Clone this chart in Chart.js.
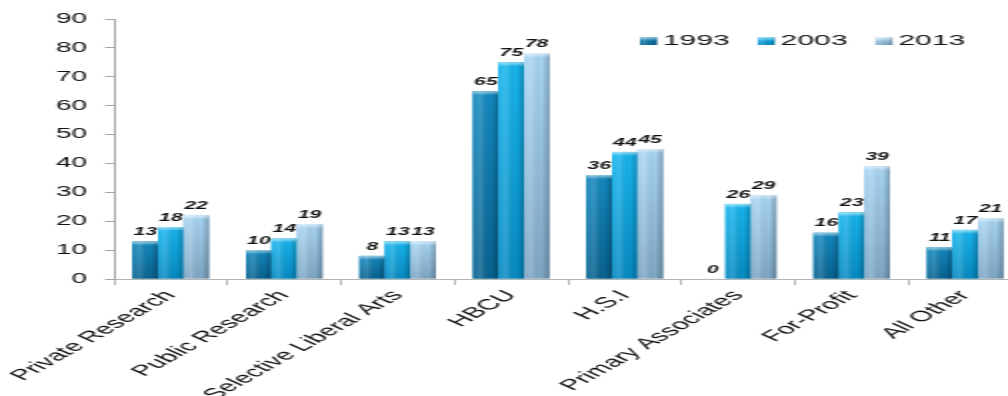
<!DOCTYPE html>
<html>
<head>
<meta charset="utf-8">
<script src="https://cdn.jsdelivr.net/npm/chart.js@4.4.0/dist/chart.umd.min.js"></script>
<style>
html, body { margin: 0; padding: 0; background: #fff; overflow: hidden; }
/* chart is laid out at half width and stretched 2x horizontally */
#wrap { position: absolute; left: 0; top: 0; width: 511px; height: 396px; transform: scaleX(2); transform-origin: 0 0; }
</style>
</head>
<body>
<div id="wrap"><canvas id="chart"></canvas></div>
<script>
const categories = ['Private Research', 'Public Research', 'Selective Liberal Arts', 'HBCU', 'H.S.I', 'Primary Associates', 'For-Profit', 'All Other'];
const years = ['1993', '2003', '2013'];
const values1993 = [13, 10, 8, 65, 36, 0, 16, 11];
const values2003 = [18, 14, 13, 75, 44, 26, 23, 17];
const values2013 = [22, 19, 13, 78, 45, 29, 39, 21];
const yMin = 0, yMax = 90, yStep = 10;

const colors = ['#0f7fb5', '#0ea3dc', '#94c0e0'];
const topColors = ['#1389c0', '#17b6ee', '#a9d6f4'];
const bottomColors = ['#08628f', '#068ac2', '#7ea6c4'];
const FONT = 'Arial, "Liberation Sans", sans-serif';

// cylinder-ish fill for one bar
function paintBar(ctx, i, left, top, w, h) {
    let g = ctx.createLinearGradient(0, top, 0, top + h);
    g.addColorStop(0, topColors[i]);
    g.addColorStop(1, bottomColors[i]);
    ctx.fillStyle = g;
    ctx.fillRect(left, top, w, h);

    g = ctx.createLinearGradient(left, 0, left + w, 0);
    g.addColorStop(0, 'rgba(255,255,255,0.06)');
    g.addColorStop(0.3, 'rgba(255,255,255,0.16)');
    g.addColorStop(0.7, 'rgba(0,0,0,0)');
    g.addColorStop(1, 'rgba(0,0,0,0.25)');
    ctx.fillStyle = g;
    ctx.fillRect(left, top, w, h);

    // lighter cap on top
    const capH = Math.min(4, h);
    g = ctx.createLinearGradient(0, top, 0, top + capH);
    g.addColorStop(0, 'rgba(255,255,255,0.55)');
    g.addColorStop(1, 'rgba(255,255,255,0)');
    ctx.fillStyle = g;
    ctx.fillRect(left, top, w, capH);
}

const barDecor = {
    id: 'barDecor',
    afterDatasetsDraw(chart) {
        const ctx = chart.ctx;
        ctx.save();
        chart.data.datasets.forEach((ds, i) => {
            const meta = chart.getDatasetMeta(i);
            meta.data.forEach(el => {
                const p = el.getProps(['x', 'y', 'base', 'width'], true);
                const top = Math.min(p.y, p.base);
                const h = Math.abs(p.base - p.y);
                if (h >= 1) paintBar(ctx, i, p.x - p.width / 2, top, p.width, h);
            });
        });
        // value labels
        ctx.font = 'italic bold 10.5px ' + FONT;
        ctx.fillStyle = '#111';
        ctx.textAlign = 'center';
        ctx.textBaseline = 'bottom';
        chart.data.datasets.forEach((ds, i) => {
            const meta = chart.getDatasetMeta(i);
            meta.data.forEach((el, j) => {
                ctx.fillText(String(ds.data[j]), el.x, el.y - 4);
            });
        });
        ctx.restore();
    }
};

// legend drawn inside the plot, top right
const topLegend = {
    id: 'topLegend',
    afterDraw(chart) {
        const ctx = chart.ctx;
        ctx.save();
        ctx.font = '15px ' + FONT;
        ctx.textBaseline = 'middle';
        ctx.textAlign = 'left';
        let x = 320;
        const yc = 41;
        chart.data.datasets.forEach((ds, i) => {
            paintBar(ctx, i, x, yc - 4, 8.5, 8);
            ctx.fillStyle = '#111';
            ctx.fillText(ds.label, x + 11.5, yc);
            x += 11.5 + ctx.measureText(ds.label).width + 14;
        });
        ctx.restore();
    }
};

const chartData = {
    labels: categories,
    datasets: [
        { label: years[0], data: values1993, backgroundColor: colors[0] },
        { label: years[1], data: values2003, backgroundColor: colors[1] },
        { label: years[2], data: values2013, backgroundColor: colors[2] }
    ]
};

const config = {
    type: 'bar',
    data: chartData,
    options: {
        responsive: true,
        maintainAspectRatio: false,
        animation: false,
        layout: { padding: { top: 19, left: 0, right: 0, bottom: 0 } },
        datasets: { bar: { barPercentage: 1.0, categoryPercentage: 0.674 } },
        plugins: { legend: { display: false }, tooltip: { enabled: false } },
        scales: {
            x: {
                grid: { offset: true, drawOnChartArea: false, drawTicks: true, tickLength: 6, color: '#b4b4b4' },
                border: { color: '#b4b4b4' },
                ticks: { font: { family: FONT, size: 15 }, color: '#111', minRotation: 48, maxRotation: 48, autoSkip: false, padding: 2 },
                afterFit: s => { s.height = 117; }
            },
            y: {
                min: yMin,
                max: yMax,
                grid: { drawOnChartArea: false, drawTicks: true, tickLength: 4.5, color: '#a6a6a6' },
                border: { color: '#a6a6a6' },
                ticks: { stepSize: yStep, font: { family: FONT, size: 14 }, color: '#111', padding: 9 },
                afterFit: s => { s.width = 57; }
            }
        }
    },
    plugins: [barDecor, topLegend]
};

new Chart(document.getElementById('chart').getContext('2d'), config);
</script>
</body>
</html>
